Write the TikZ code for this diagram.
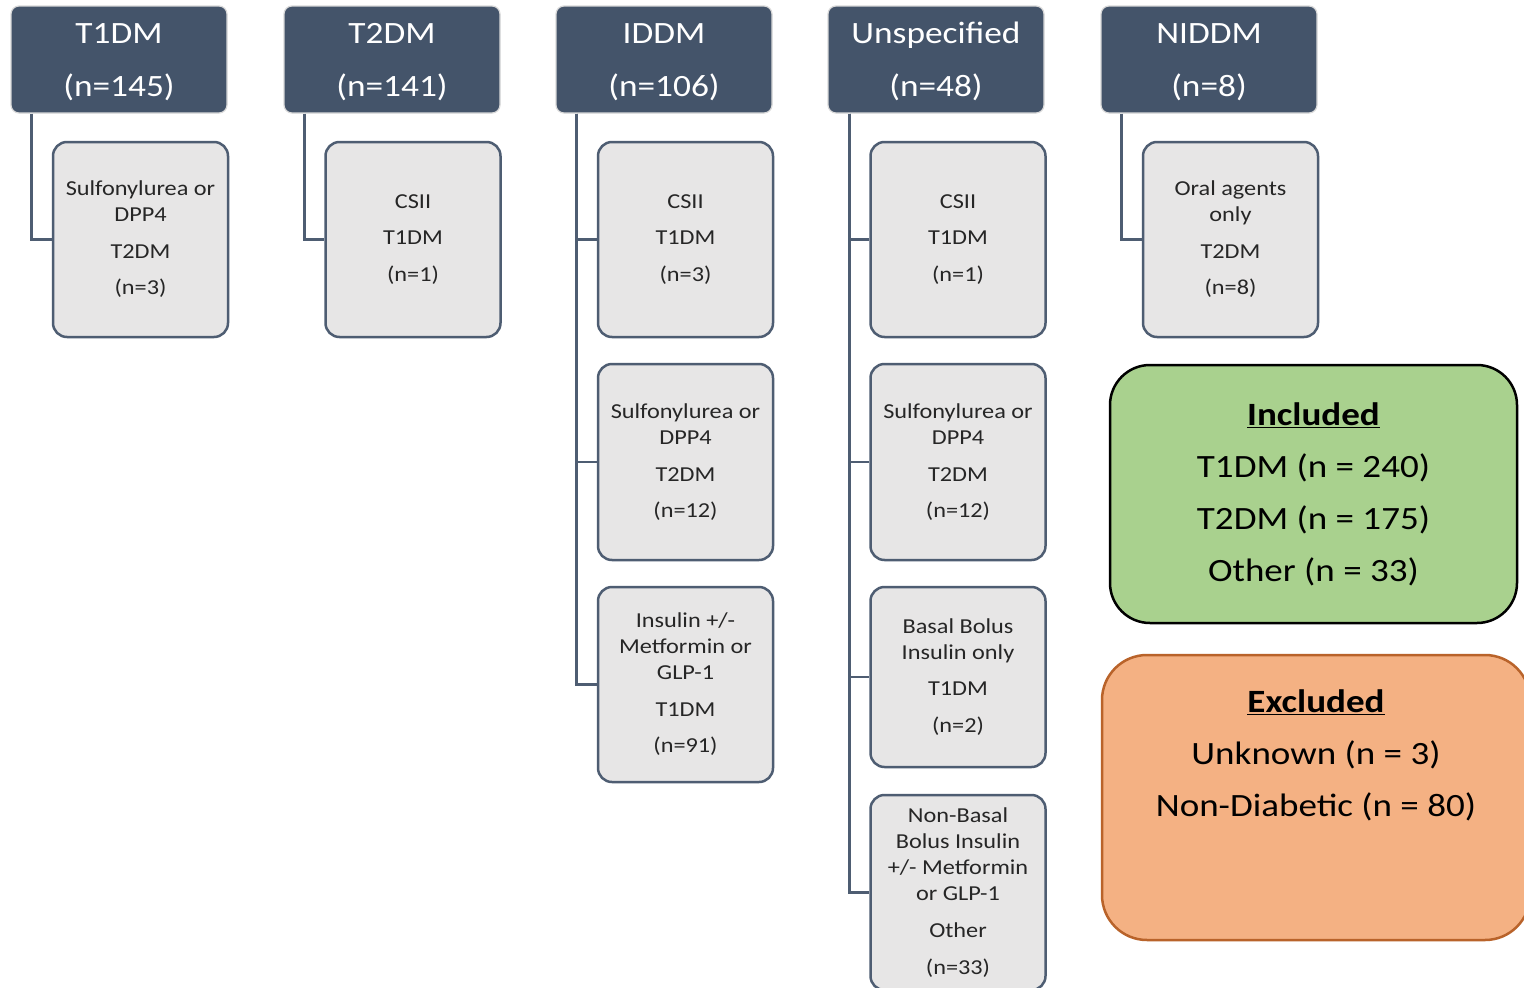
\documentclass[tikz,border=0pt]{standalone}
\usepackage{fontspec}
\setmainfont{Carlito}[FakeStretch=1.14]
\definecolor{hdr}{HTML}{44546A}
\definecolor{kidfill}{HTML}{E7E6E6}
\definecolor{kidline}{HTML}{4E5D72}
\definecolor{kidtext}{HTML}{262626}
\definecolor{incfill}{HTML}{A9D18E}
\definecolor{excfill}{HTML}{F4B183}
\definecolor{excline}{HTML}{B9632A}
% extra headroom above the first header line
\newcommand{\headtop}{\rule{0pt}{25.5pt}}
\begin{document}
\begin{tikzpicture}[x=1pt,y=-1pt,
  hbox/.style={fill=hdr, draw=black!15, line width=1.2pt, rounded corners=8pt,
    minimum width=216pt, minimum height=107pt, inner sep=0pt, text=white,
    align=center, font=\fontsize{31}{53}\selectfont},
  kbox/.style={fill=kidfill, draw=kidline, line width=2.5pt, rounded corners=14pt,
    minimum width=175pt, inner sep=0pt, text=kidtext, align=center,
    font=\fontsize{21.3}{26}\selectfont},
  link/.style={draw=kidline, line width=2.5pt},
  sumbox/.style={line width=2.5pt, inner sep=0pt, align=center,
    font=\fontsize{32.5}{52}\selectfont}]
\path[use as bounding box, fill=white] (0,0) rectangle (1524,988);

% category headers
\node[hbox] (h1) at (119,59.5)  {\headtop T1DM\\(n=145)};
\node[hbox] (h2) at (392,59.5)  {\headtop T2DM\\(n=141)};
\node[hbox] (h3) at (664,59.5)  {\headtop IDDM\\(n=106)};
\node[hbox] (h4) at (936,59.5)  {\headtop Unspecified\\(n=48)};
\node[hbox] (h5) at (1209,59.5) {\headtop NIDDM\\(n=8)};

% treatment / classification boxes
\node[kbox, minimum height=195pt] (c11) at (140.5,239.5)
  {Sulfonylurea or\\DPP4\\[11pt]T2DM\\[10pt](n=3)};
\node[kbox, minimum height=195pt] (c21) at (413,239.5)
  {CSII\\[10pt]T1DM\\[11pt](n=1)};
\node[kbox, minimum height=195pt] (c31) at (685.5,239.5)
  {CSII\\[10pt]T1DM\\[11pt](n=3)};
\node[kbox, minimum height=196pt] (c32) at (685.5,462)
  {Sulfonylurea or\\DPP4\\[11pt]T2DM\\[10pt](n=12)};
\node[kbox, minimum height=195pt] (c33) at (685.5,684.5)
  {Insulin +/-\\Metformin or\\GLP-1\\[11pt]T1DM\\[10pt](n=91)};
\node[kbox, minimum height=195pt] (c41) at (958,239.5)
  {CSII\\[10pt]T1DM\\[11pt](n=1)};
\node[kbox, minimum height=196pt] (c42) at (958,462)
  {Sulfonylurea or\\DPP4\\[11pt]T2DM\\[10pt](n=12)};
\node[kbox, minimum height=180pt] (c43) at (958,677)
  {Basal Bolus\\Insulin only\\[10pt]T1DM\\[11pt](n=2)};
\node[kbox, minimum height=195pt] (c44) at (958,892.5)
  {Non-Basal\\Bolus Insulin\\+/- Metformin\\or GLP-1\\[11pt]Other\\[11pt](n=33)};
\node[kbox, minimum height=195pt] (c51) at (1230.5,239.5)
  {Oral agents\\only\\[11pt]T2DM\\[10pt](n=8)};

% elbow connectors
\draw[link] ([xshift=21pt]h1.south west) |- (c11.west);
\draw[link] ([xshift=21pt]h2.south west) |- (c21.west);
\draw[link] ([xshift=21pt]h3.south west) |- (c31.west);
\draw[link] ([xshift=21pt]h3.south west) |- (c32.west);
\draw[link] ([xshift=21pt]h3.south west) |- (c33.west);
\draw[link] ([xshift=22pt]h4.south west) |- (c41.west);
\draw[link] ([xshift=22pt]h4.south west) |- (c42.west);
\draw[link] ([xshift=22pt]h4.south west) |- (c43.west);
\draw[link] ([xshift=22pt]h4.south west) |- (c44.west);
\draw[link] ([xshift=21pt]h5.south west) |- (c51.west);

% summary boxes
\node[sumbox, fill=incfill, draw=black, rounded corners=40pt,
  minimum width=407pt, minimum height=258pt] (inc) at (1313.5,494)
  {\textbf{\underline{Included}}\\T1DM (n = 240)\\T2DM (n = 175)\\Other (n = 33)};
\node[sumbox, fill=excfill, draw=excline, rounded corners=45pt,
  minimum width=428pt, minimum height=285pt] (exc) at (1316,797.5) {};
\node[sumbox, anchor=north] (exctext) at (1316,688)
  {\textbf{\underline{Excluded}}\\Unknown (n = 3)\\Non-Diabetic (n = 80)};
\end{tikzpicture}
\end{document}
